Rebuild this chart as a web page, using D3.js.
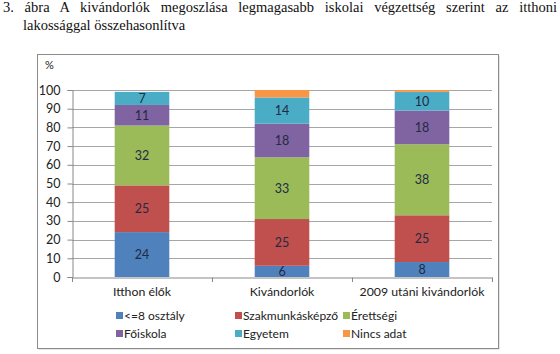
<!DOCTYPE html>
<html>
<head>
<meta charset="utf-8">
<script src="https://cdn.jsdelivr.net/npm/d3@7"></script>
<style>
  body { margin: 0; background: #fff; }
  svg { display: block; }
  .title text { font-family: "Liberation Serif", "DejaVu Serif", serif; font-size: 14.5px; fill: #111; }
</style>
</head>
<body>
<div id="chart"></div>
<script>
// kategóriák és sorozatok (%)
const categories = ["Itthon élők", "Kivándorlók", "2009 utáni kivándorlók"];
const seriesNames = ["<=8 osztály", "Szakmunkásképző", "Érettségi", "Főiskola", "Egyetem", "Nincs adat"];
const alapfok = [24, 6, 8];
const szakmunkas = [25, 25, 25];
const erettsegi = [32, 33, 38];
const foiskola = [11, 18, 18];
const egyetem = [7, 14, 10];
const nincsAdat = [0, 4, 1];
const yTicks = [0, 10, 20, 30, 40, 50, 60, 70, 80, 90, 100];

const seriesValues = [alapfok, szakmunkas, erettsegi, foiskola, egyetem, nincsAdat];
const colors = ["#4F81BD", "#C0504D", "#9BBB59", "#8064A2", "#4BACC6", "#F79646"];

const width = 560, height = 354;
const svg = d3.select("#chart").append("svg").attr("width", width).attr("height", height);

// cím, első sor sorkizárt
const title = svg.append("g").attr("class", "title");
const line1Words = "3. ábra A kivándorlók megoszlása legmagasabb iskolai végzettség szerint az itthoni";
const t1 = title.append("text").attr("x", 3).attr("y", 12).text(line1Words);
const natural = t1.node().getComputedTextLength();
const gaps = line1Words.split(" ").length - 1;
t1.attr("word-spacing", Math.max(0, (554 - natural) / gaps));
title.append("text").attr("x", 23).attr("y", 30)
    .text("lakossággal összehasonlítva");

// keret
svg.append("rect")
    .attr("x", 38.5).attr("y", 55.5).attr("width", 461).attr("height", 294)
    .attr("fill", "#ccc");
svg.append("rect")
    .attr("x", 37.5).attr("y", 54.5).attr("width", 461).attr("height", 294)
    .attr("fill", "#fff").attr("stroke", "#8c8c8c");

const margin = { left: 72, right: 492, top: 90, bottom: 277 };
const fontFam = "Lato, 'Open Sans', sans-serif";

const x = d3.scaleBand().domain(categories).range([margin.left, margin.right]).paddingInner(0).paddingOuter(0);
const y = d3.scaleLinear().domain([0, 100]).range([margin.bottom, margin.top]);
const barW = x.bandwidth() * 0.39;

// rácsvonalak
svg.append("g")
    .selectAll("line")
    .data(yTicks.filter(d => d > 0))
    .enter().append("line")
    .attr("x1", margin.left).attr("x2", margin.right)
    .attr("y1", d => Math.round(y(d)) + 0.5).attr("y2", d => Math.round(y(d)) + 0.5)
    .attr("stroke", "#a6a6a6");

// y tengely
const yAxis = svg.append("g")
    .attr("transform", `translate(${margin.left + 0.5},0)`)
    .call(d3.axisLeft(y).tickValues(yTicks).tickSize(5).tickPadding(7));
yAxis.select(".domain").attr("stroke", "#888");
yAxis.selectAll(".tick line").attr("stroke", "#888");
yAxis.selectAll("text").style("font-family", fontFam).style("font-size", "12.5px").attr("fill", "#222");

svg.append("text").attr("x", 45).attr("y", 69)
    .style("font-family", fontFam).style("font-size", "11px").attr("fill", "#222")
    .text("%");

// halmozott oszlopok
const rows = categories.map((c, i) => {
    const r = { cat: c };
    seriesNames.forEach((s, j) => r[s] = seriesValues[j][i]);
    return r;
});
const stacked = d3.stack().keys(seriesNames)(rows);

stacked.forEach((layer, j) => {
    const g = svg.append("g");
    g.selectAll("rect")
        .data(layer)
        .enter().append("rect")
        .attr("x", d => x(d.data.cat) + (x.bandwidth() - barW) / 2)
        .attr("width", barW)
        .attr("y", d => y(d[1]))
        .attr("height", d => y(d[0]) - y(d[1]))
        .attr("fill", colors[j]);
    if (j < 5) {
        g.selectAll("text")
            .data(layer)
            .enter().append("text")
            .attr("x", d => x(d.data.cat) + x.bandwidth() / 2)
            .attr("y", d => (y(d[0]) + y(d[1])) / 2 + 4.5)
            .attr("text-anchor", "middle")
            .style("font-family", fontFam).style("font-size", "12.5px")
            .attr("fill", "#1f2a44")
            .text(d => d[1] - d[0]);
    }
});

// x tengely
const xAxis = svg.append("g")
    .attr("transform", `translate(0,${Math.round(margin.bottom) + 0.5})`)
    .call(d3.axisBottom(x).tickSize(0).tickPadding(10));
xAxis.select(".domain").attr("stroke", "#888");
xAxis.selectAll("text").style("font-family", fontFam).style("font-size", "12.3px").attr("fill", "#222");
svg.append("g").selectAll("line")
    .data([0, 1, 2, 3])
    .enter().append("line")
    .attr("x1", i => Math.round(margin.left + i * x.step()) + 0.5)
    .attr("x2", i => Math.round(margin.left + i * x.step()) + 0.5)
    .attr("y1", Math.round(margin.bottom) + 0.5).attr("y2", Math.round(margin.bottom) + 5)
    .attr("stroke", "#888");

// jelmagyarázat
const legendX = [116, 235, 343];
const legendY = [312, 330];
const legend = svg.append("g");
seriesNames.forEach((s, i) => {
    const lx = legendX[i % 3], ly = legendY[Math.floor(i / 3)];
    legend.append("rect").attr("x", lx).attr("y", ly).attr("width", 7).attr("height", 7).attr("fill", colors[i]);
    legend.append("text").attr("x", lx + 8).attr("y", ly + 8)
        .style("font-family", fontFam).style("font-size", "12px").attr("fill", "#222")
        .text(s);
});
</script>
</body>
</html>
